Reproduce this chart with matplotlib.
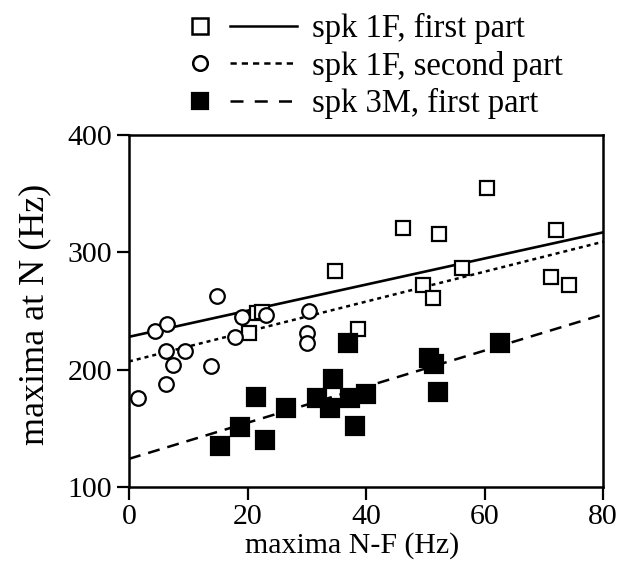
import matplotlib.pyplot as plt
from matplotlib.lines import Line2D

# spk 1F, first part (open squares)
first_x = [20.3, 21.6, 22.4, 34.8, 38.7, 46.3, 49.7, 51.3, 52.3, 56.2, 60.4, 71.2, 72.1, 74.3]
first_y = [231, 248, 249, 284, 235, 321, 272, 261, 316, 287, 355, 279, 319, 272]

# spk 1F, second part (open circles)
second_x = [1.6, 4.4, 6.4, 6.2, 7.5, 9.5, 6.2, 14.8, 13.8, 19.0, 17.9, 23.2, 30.3, 30.0, 30.0]
second_y = [176, 233, 239, 216, 204, 216, 188, 263, 203, 245, 228, 247, 250, 231, 223]

# spk 3M, first part (filled squares)
third_x = [15.4, 18.7, 21.4, 23.0, 26.5, 31.7, 34.4, 34.0, 37.0, 37.3, 38.1, 40.0, 50.6, 51.4, 52.1, 62.7]
third_y = [135, 151, 177, 140, 167, 176, 192, 167, 223, 176, 152, 179, 210, 205, 181, 223]

# regression lines (values at x = 0 and x = 80)
fit_x = [0, 80]
first_fit = [228, 317]
second_fit = [207, 309]
third_fit = [124, 247]

labels = ['spk 1F, first part', 'spk 1F, second part', 'spk 3M, first part']

plt.rcParams['font.family'] = ['Liberation Serif', 'DejaVu Serif']


class MarkerLineHandler:
    # marker on the left, line sample on the right
    def legend_artist(self, legend, orig_handle, fontsize, handlebox):
        mk, ls = orig_handle
        x0, y0 = -handlebox.xdescent, -handlebox.ydescent
        w, h = handlebox.width, handlebox.height
        yc = y0 + h / 2
        m = Line2D([x0 + 0.093 * w], [yc], ls='none', **mk)
        l = Line2D([x0 + 0.374 * w, x0 + w], [yc, yc], color='black', lw=1.8, ls=ls)
        m.set_transform(handlebox.get_transform())
        l.set_transform(handlebox.get_transform())
        handlebox.add_artist(l)
        handlebox.add_artist(m)
        return m


fig = plt.figure(figsize=(6.25, 5.72), dpi=100)
ax = fig.add_axes([0.2064, 0.1486, 0.7584, 0.6154])

mew = 1.6
ax.plot(first_x, first_y, 's', ms=10.5, mfc='white', mec='black', mew=mew, zorder=3)
ax.plot(second_x, second_y, 'o', ms=10.5, mfc='white', mec='black', mew=mew, zorder=3)
ax.plot(third_x, third_y, 's', ms=12.5, mfc='black', mec='black', mew=mew, zorder=3)

ax.plot(fit_x, first_fit, color='black', lw=1.9, ls='-', zorder=2)
ax.plot(fit_x, second_fit, color='black', lw=1.8, ls=(0, (1.6, 1.6)), zorder=2)
ax.plot(fit_x, third_fit, color='black', lw=1.8, ls=(0, (4.8, 3.2)), zorder=2)

ax.set_xlim(0, 80)
ax.set_ylim(100, 400)
ax.set_xticks([0, 20, 40, 60, 80])
ax.set_yticks([100, 200, 300, 400])
ax.tick_params(direction='out', length=9, width=1.6, labelsize=21.5, pad=3)
for s in ax.spines.values():
    s.set_linewidth(1.8)

ax.set_xlabel('maxima N-F (Hz)', fontsize=21.5, labelpad=2)
ax.set_ylabel('maxima at N (Hz)', fontsize=26, labelpad=12)
ax.xaxis.label.set_x(0.47)
ax.yaxis.label.set_y(0.49)

handles = [
    (dict(marker='s', ms=11, mfc='white', mec='black', mew=1.8), '-'),
    (dict(marker='o', ms=10.5, mfc='white', mec='black', mew=1.8), (0, (2.5, 2))),
    (dict(marker='s', ms=12, mfc='black', mec='black', mew=1.6), (0, (5.2, 4.5))),
]
fig.legend(handles, labels, handler_map={tuple: MarkerLineHandler()},
           loc='upper left', bbox_to_anchor=(0.283, 1.0), frameon=False,
           fontsize=23.5, handlelength=3.28, handletextpad=0.46, labelspacing=0.2,
           borderaxespad=0.0)

fig.savefig('out.png', dpi=100)
